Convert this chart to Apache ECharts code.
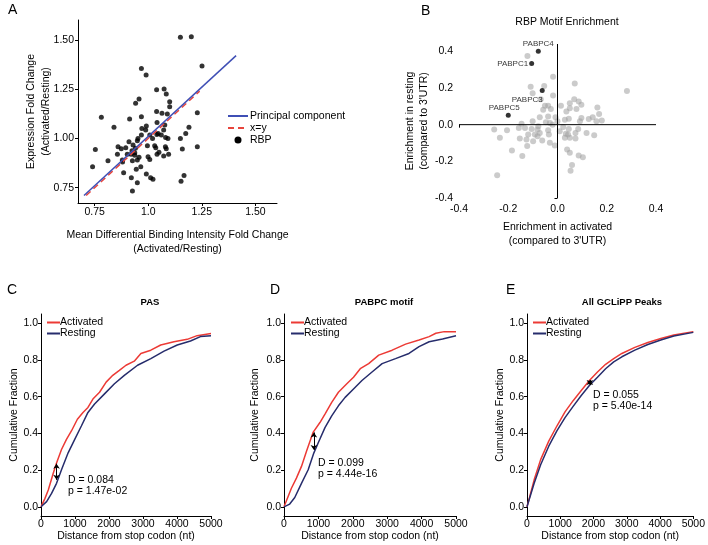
<!DOCTYPE html>
<html>
<head>
<meta charset="utf-8">
<script src="https://cdn.jsdelivr.net/npm/echarts@6/dist/echarts.min.js"></script>
<style>
html, body { margin: 0; padding: 0; background: #fff; }
#main { width: 708px; height: 545px; }
</style>
</head>
<body>
<div id="main"></div>
<script>
var FONT = "'Liberation Sans', Arial, sans-serif";

// ---- panel A : binding vs expression fold change
var rbpPoints = [
    [0.740, 0.856], [0.753, 0.944], [0.781, 1.107], [0.812, 0.887], [0.840, 1.056],
    [0.856, 0.919], [0.859, 0.958], [0.874, 0.948], [0.879, 0.890], [0.885, 0.826],
    [0.895, 0.953], [0.902, 0.919], [0.910, 0.983], [0.913, 1.098], [0.921, 0.800],
    [0.924, 0.937], [0.926, 0.887], [0.926, 0.733], [0.929, 0.966], [0.937, 0.927],
    [0.937, 0.915], [0.941, 1.178], [0.944, 0.843], [0.949, 0.988], [0.949, 0.890],
    [0.949, 0.775], [0.952, 1.000], [0.957, 1.200], [0.957, 0.904], [0.965, 0.856],
    [0.968, 1.355], [0.968, 1.110], [0.968, 1.017], [0.988, 1.042], [0.990, 1.322],
    [0.991, 1.063], [0.991, 0.819], [0.996, 0.963], [0.999, 0.907], [1.007, 1.017],
    [1.007, 0.893], [1.011, 0.800], [1.022, 0.792], [1.030, 0.963], [1.035, 0.953],
    [1.039, 1.247], [1.039, 1.137], [1.041, 1.081], [1.041, 0.920], [1.046, 1.025],
    [1.061, 1.017], [1.064, 1.127], [1.072, 1.042], [1.072, 0.910], [1.074, 1.251],
    [1.077, 1.068], [1.080, 0.958], [1.081, 1.005], [1.084, 1.225], [1.084, 0.948],
    [1.089, 1.124], [1.092, 1.000], [1.095, 0.919], [1.100, 1.186], [1.100, 1.161],
    [1.150, 1.513], [1.150, 1.000], [1.153, 0.783], [1.159, 0.946], [1.167, 0.812],
    [1.175, 1.025], [1.190, 1.056], [1.201, 1.516], [1.229, 1.130], [1.229, 0.958],
    [1.251, 1.367], [1.020, 1.000], [1.050, 0.930], [0.880, 0.880], [0.970, 1.050],
    [0.940, 0.950], [1.040, 1.020], [0.920, 0.920]
];
var pcLine = [[0.70, 0.71], [1.41, 1.42]];
var xyLine = [[0.71, 0.71], [1.24, 1.24]];
var aTicks = [0.75, 1.0, 1.25, 1.5];
var aXLabels = ['0.75', '1.0', '1.25', '1.50'];
var aYLabels = ['0.75', '1.00', '1.25', '1.50'];

// ---- panel B : motif enrichment
var motifGrey = [
    [-0.122, 0.375], [-0.018, 0.261], [-0.109, 0.207], [-0.054, 0.211], [-0.101, 0.171],
    [-0.018, 0.159], [0.070, 0.225], [0.282, 0.184], [-0.068, 0.139], [-0.051, 0.103],
    [-0.038, 0.103], [-0.027, 0.086], [-0.058, 0.081], [0.014, 0.103], [0.050, 0.117],
    [0.068, 0.139], [0.086, 0.126], [0.097, 0.108], [0.050, 0.090], [0.036, 0.072],
    [0.077, 0.085], [0.162, 0.094], [0.169, 0.058], [0.143, 0.040], [0.127, 0.031],
    [0.180, 0.023], [0.158, 0.018], [0.097, 0.036], [0.091, 0.018], [0.046, 0.032],
    [0.030, 0.027], [-0.008, 0.041], [0.000, 0.018], [-0.072, 0.041], [-0.038, 0.045],
    [-0.101, 0.018], [-0.146, 0.005], [-0.257, -0.027], [-0.205, -0.031], [-0.234, -0.072],
    [-0.157, -0.018], [-0.132, -0.018], [-0.105, -0.023], [-0.081, -0.027], [-0.119, -0.054],
    [-0.092, -0.054], [-0.072, -0.045], [-0.038, -0.031], [-0.035, -0.054], [-0.153, -0.076],
    [-0.126, -0.081], [-0.099, -0.090], [-0.062, -0.086], [-0.031, -0.099], [-0.011, -0.114],
    [-0.123, -0.117], [-0.185, -0.141], [-0.143, -0.171], [0.034, -0.049], [0.043, -0.054],
    [0.050, -0.072], [0.030, -0.072], [0.073, -0.045], [0.073, -0.076], [0.084, -0.023],
    [0.118, -0.045], [0.149, -0.058], [0.023, -0.013], [0.046, -0.023], [0.039, -0.135],
    [0.050, -0.153], [0.086, -0.168], [0.103, -0.178], [0.059, -0.220], [0.053, -0.252],
    [-0.245, -0.276], [-0.081, -0.063], [-0.047, 0.013], [-0.020, 0.000], [0.009, -0.036],
    [-0.031, 0.009], [-0.078, -0.009]
];
var pabpcNames = ['PABPC4', 'PABPC1', 'PABPC3', 'PABPC5'];
var pabpcPoints = [[-0.078, 0.400], [-0.105, 0.333], [-0.062, 0.186], [-0.200, 0.052]];
var bTicks = [-0.4, -0.2, 0, 0.2, 0.4];
var bZeroH = [[-0.4, 0], [0.4, 0]];
var bZeroV = [[0, -0.4], [0, 0.44]];

// ---- panels C-E : cumulative distributions
var cdfTicks = [0, 0.2, 0.4, 0.6, 0.8, 1.0];
var pasActivated = [
    [0, 0], [117, 0.046], [214, 0.092], [360, 0.183], [457, 0.239], [603, 0.312],
    [749, 0.367], [895, 0.413], [1070, 0.477], [1235, 0.514], [1381, 0.541], [1527, 0.587],
    [1722, 0.624], [1916, 0.679], [2111, 0.716], [2305, 0.743], [2500, 0.771], [2743, 0.793],
    [2938, 0.835], [3230, 0.853], [3521, 0.881], [3911, 0.899], [4300, 0.912], [4591, 0.932],
    [5000, 0.944]
];
var pasResting = [
    [0, 0], [165, 0.028], [311, 0.073], [457, 0.128], [603, 0.202], [798, 0.294],
    [992, 0.367], [1187, 0.440], [1381, 0.514], [1576, 0.560], [1868, 0.615], [2160, 0.670],
    [2451, 0.716], [2840, 0.771], [3230, 0.807], [3619, 0.848], [4008, 0.881], [4397, 0.903],
    [4689, 0.927], [5000, 0.932]
];
var pabpcActivated = [
    [0, 0], [117, 0.055], [215, 0.101], [361, 0.156], [508, 0.220], [654, 0.303],
    [850, 0.407], [1045, 0.459], [1191, 0.505], [1387, 0.569], [1582, 0.624], [1826, 0.670],
    [2021, 0.706], [2217, 0.752], [2461, 0.780], [2754, 0.826], [3145, 0.853], [3535, 0.886],
    [3926, 0.908], [4219, 0.927], [4414, 0.945], [4658, 0.954], [5000, 0.954]
];
var pabpcResting = [
    [0, 0], [166, 0.015], [313, 0.051], [508, 0.128], [703, 0.202], [869, 0.294],
    [996, 0.349], [1191, 0.431], [1387, 0.495], [1582, 0.550], [1777, 0.596], [2021, 0.642],
    [2266, 0.688], [2559, 0.734], [2852, 0.780], [3242, 0.807], [3633, 0.835], [3926, 0.872],
    [4219, 0.899], [4609, 0.914], [5000, 0.932]
];
var allActivated = [
    [0, 0], [215, 0.147], [410, 0.257], [654, 0.358], [898, 0.440], [1143, 0.517],
    [1387, 0.578], [1631, 0.633], [1875, 0.688], [2119, 0.734], [2363, 0.776], [2607, 0.807],
    [2852, 0.835], [3242, 0.868], [3633, 0.895], [4023, 0.917], [4414, 0.936], [5000, 0.954]
];
var allResting = [
    [0, 0], [215, 0.128], [410, 0.229], [654, 0.330], [898, 0.413], [1143, 0.486],
    [1387, 0.547], [1631, 0.606], [1875, 0.661], [2119, 0.706], [2363, 0.752], [2607, 0.789],
    [2852, 0.817], [3242, 0.853], [3633, 0.884], [4023, 0.908], [4414, 0.930], [5000, 0.950]
];
var cdfTitles = ['PAS', 'PABPC motif', 'All GCLiPP Peaks'];
var ksStats = ['D = 0.084\np = 1.47e-02', 'D = 0.099\np = 4.44e-16', 'D = 0.055\np = 5.40e-14'];
// arrow: [x, yTop, yBottom]
var ksArrows = [[457, 0.235, 0.147], [869, 0.405, 0.310], [1890, 0.690, 0.663]];

var RED = '#ec3a35', NAVY = '#262c6c';

var pick = function(ticks, labels) {
    return function(v) {
        for (var i = 0; i < ticks.length; i++) {
            if (Math.abs(ticks[i] - v) < 1e-6) return labels[i];
        }
        return '';
    };
};

var txt = function(size, extra) {
    var s = {fontFamily: FONT, fontSize: size, color: '#000'};
    for (var k in extra) s[k] = extra[k];
    return s;
};

var axisBase = function(o) {
    var a = {
        type: 'value',
        axisLine: {show: true, onZero: false, lineStyle: {color: '#000', width: 1}},
        axisTick: {show: true, length: 3, lineStyle: {color: '#000'}},
        axisLabel: txt(10.5, {margin: 4}),
        splitLine: {show: false},
        nameLocation: 'middle',
        nameTextStyle: txt(10.5, {})
    };
    for (var k in o) a[k] = o[k];
    return a;
};

var init_chart = function() {
    var myChart = echarts.init(document.getElementById('main'));

    var grids = [
        {left: 78, top: 20, width: 199, height: 183},
        {left: 459, top: 44, width: 197, height: 154},
        {left: 41, top: 314, width: 170, height: 202},
        {left: 284, top: 314, width: 172, height: 202},
        {left: 527, top: 314, width: 170, height: 202}
    ];

    var xAxes = [
        axisBase({gridIndex: 0, min: 0.672, max: 1.601,
            name: 'Mean Differential Binding Intensity Fold Change\n(Activated/Resting)',
            nameGap: 25, nameTextStyle: txt(10.5, {lineHeight: 14}),
            axisTick: {show: true, length: 3, customValues: aTicks, lineStyle: {color: '#000'}},
            axisLabel: txt(10.5, {margin: 4, customValues: aTicks, formatter: pick(aTicks, aXLabels)})}),
        axisBase({gridIndex: 1, min: -0.4, max: 0.4,
            name: "Enrichment in activated\n(compared to 3'UTR)",
            nameGap: 22, nameTextStyle: txt(10.5, {lineHeight: 14}),
            axisLine: {show: false},
            axisTick: {show: true, length: 3, customValues: [-0.4], lineStyle: {color: '#000'}},
            axisLabel: txt(10.5, {margin: 6, customValues: bTicks, formatter: function(v) { return v.toFixed(1); }})})
    ];
    var yAxes = [
        axisBase({gridIndex: 0, min: 0.672, max: 1.601,
            name: 'Expression Fold Change\n(Activated/Resting)',
            nameGap: 24, nameMoveOverlap: false, nameTextStyle: txt(10.5, {lineHeight: 15}),
            axisTick: {show: true, length: 3, customValues: aTicks, lineStyle: {color: '#000'}},
            axisLabel: txt(10.5, {margin: 4, customValues: aTicks, formatter: pick(aTicks, aYLabels)})}),
        axisBase({gridIndex: 1, min: -0.4, max: 0.44,
            name: "Enrichment in resting\n(compared to 3'UTR)",
            nameGap: 24, nameTextStyle: txt(10.5, {lineHeight: 14}),
            axisLine: {show: false},
            axisTick: {show: true, length: 3, customValues: [-0.4], lineStyle: {color: '#000'}},
            axisLabel: txt(10.5, {margin: 6, customValues: bTicks, formatter: function(v) { return v.toFixed(1); }})})
    ];
    var yGaps = [20, 23, 20];
    for (var p = 0; p < 3; p++) {
        xAxes.push(axisBase({gridIndex: p + 2, min: 0, max: 5000, interval: 1000,
            name: 'Distance from stop codon (nt)', nameGap: 15,
            axisLabel: txt(10.5, {margin: 3, formatter: function(v) { return String(v); }})}));
        yAxes.push(axisBase({gridIndex: p + 2, min: -0.05, max: 1.05,
            name: 'Cumulative Fraction', nameGap: yGaps[p],
            axisTick: {show: true, length: 3, customValues: cdfTicks, lineStyle: {color: '#000'}},
            axisLabel: txt(10.5, {margin: 3, customValues: cdfTicks, formatter: function(v) { return v.toFixed(1); }})}));
    }

    var series = [
        {name: 'x=y', type: 'line', xAxisIndex: 0, yAxisIndex: 0, data: xyLine, symbol: 'none',
            lineStyle: {color: '#e8453c', width: 1.5, type: [6, 4]}},
        {name: 'Principal component', type: 'line', xAxisIndex: 0, yAxisIndex: 0, data: pcLine, symbol: 'none',
            lineStyle: {color: '#3f4fb5', width: 1.5}},
        {name: 'RBP', type: 'scatter', xAxisIndex: 0, yAxisIndex: 0, data: rbpPoints, symbolSize: 5,
            itemStyle: {color: '#000'}},
        {name: 'zeroH', type: 'line', xAxisIndex: 1, yAxisIndex: 1, data: bZeroH, symbol: 'none', silent: true,
            lineStyle: {color: '#000', width: 1}},
        {name: 'zeroV', type: 'line', xAxisIndex: 1, yAxisIndex: 1, data: bZeroV, symbol: 'none', silent: true,
            lineStyle: {color: '#000', width: 1}},
        {name: 'motifs', type: 'scatter', xAxisIndex: 1, yAxisIndex: 1, data: motifGrey, symbolSize: 6,
            itemStyle: {color: '#a0a0a0', opacity: 0.55}}
    ];

    var labelPos = [
        {position: 'top', distance: 1, offset: [0, 0]},
        {position: 'left', distance: 1, offset: [0, 0]},
        {position: 'left', distance: 0, offset: [3, 9]},
        {position: 'top', distance: 1, offset: [-4, 0]}
    ];
    series.push({name: 'PABPC', type: 'scatter', xAxisIndex: 1, yAxisIndex: 1, symbolSize: 5,
        itemStyle: {color: '#000'},
        data: pabpcPoints.map(function(d, i) {
            return {name: pabpcNames[i], value: d,
                label: {show: true, formatter: '{b}', position: labelPos[i].position,
                    distance: labelPos[i].distance, offset: labelPos[i].offset,
                    fontFamily: FONT, fontSize: 8, color: '#000'}};
        })
    });

    var cdfData = [[pasActivated, pasResting], [pabpcActivated, pabpcResting], [allActivated, allResting]];
    for (var j = 0; j < 3; j++) {
        var ar = ksArrows[j];
        series.push({name: 'Activated', type: 'line', xAxisIndex: j + 2, yAxisIndex: j + 2,
            data: cdfData[j][0], symbol: 'none', lineStyle: {color: RED, width: 1.5}, itemStyle: {color: RED}});
        series.push({name: 'Resting', type: 'line', xAxisIndex: j + 2, yAxisIndex: j + 2,
            data: cdfData[j][1], symbol: 'none', lineStyle: {color: NAVY, width: 1.5}, itemStyle: {color: NAVY},
            markLine: {silent: true, symbol: ['arrow', 'arrow'], symbolSize: 5, label: {show: false},
                lineStyle: {color: '#000', width: 1, type: 'solid'},
                data: [[{coord: [ar[0], ar[1]]}, {coord: [ar[0], ar[2]]}]]}
        });
    }

    var titles = [
        {text: 'A', left: 3, top: -2, textStyle: txt(14, {fontWeight: 'normal'})},
        {text: 'B', left: 416, top: -1, textStyle: txt(14, {fontWeight: 'normal'})},
        {text: 'C', left: 2, top: 278, textStyle: txt(14, {fontWeight: 'normal'})},
        {text: 'D', left: 265, top: 278, textStyle: txt(14, {fontWeight: 'normal'})},
        {text: 'E', left: 501, top: 278, textStyle: txt(14, {fontWeight: 'normal'})},
        {text: 'RBP Motif Enrichment', left: 562, top: 12, textAlign: 'center', textStyle: txt(10.5, {fontWeight: 'normal'})}
    ];
    var tCenters = [145, 379, 617];
    var aLeft = [68, 318, 593];
    var aTop = [475, 458, 390];
    for (var t = 0; t < 3; t++) {
        titles.push({text: cdfTitles[t], left: tCenters[t], top: 292, textAlign: 'center',
            textStyle: txt(9.5, {fontWeight: 'bold'})});
        titles.push({text: ksStats[t], left: aLeft[t], top: aTop[t], padding: 0,
            textStyle: txt(10.5, {fontWeight: 'normal', lineHeight: 11})});
    }

    var hideSym = {opacity: 0};
    var legends = [
        {data: [{name: 'Principal component', itemStyle: hideSym}, {name: 'x=y', itemStyle: hideSym},
                {name: 'RBP', icon: 'circle', itemStyle: {opacity: 1, color: '#000'}}],
            orient: 'vertical', left: 227, top: 110,
            itemWidth: 20, itemHeight: 7, itemGap: 0, padding: 0, selectedMode: false,
            textStyle: txt(10.5, {lineHeight: 12, padding: [0, 0, 0, -3]})}
    ];
    var legLeft = [46, 290, 532];
    for (var l = 0; l < 3; l++) {
        legends.push({data: [{name: 'Activated', itemStyle: hideSym}, {name: 'Resting', itemStyle: hideSym}],
            orient: 'vertical', left: legLeft[l], top: 317,
            itemWidth: 13, itemHeight: 8, itemGap: 0, padding: 0, selectedMode: false,
            textStyle: txt(10.5, {lineHeight: 11, padding: [0, 0, 0, -5]})});
    }

    var option = {
        animation: false,
        backgroundColor: '#fff',
        title: titles,
        legend: legends,
        grid: grids,
        xAxis: xAxes,
        yAxis: yAxes,
        series: series
    };
    myChart.setOption(option);
};

init_chart();
</script>
</body>
</html>
